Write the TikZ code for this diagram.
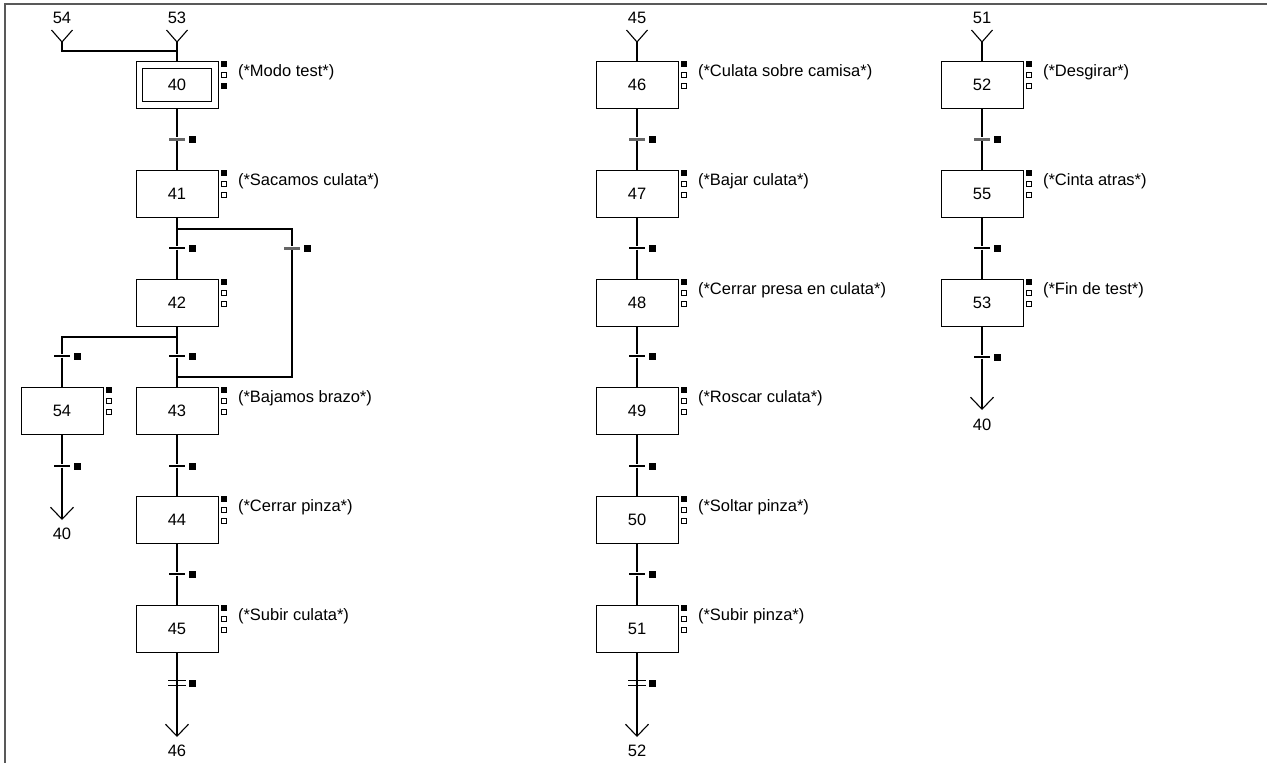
\documentclass[tikz,border=0pt]{standalone}
\usepackage{fontspec}
\setmainfont{Liberation Sans}
\usetikzlibrary{arrows.meta,calc,positioning}

\tikzset{
  stepbox/.style={draw, line width=1pt, minimum width=82pt, minimum height=47pt, inner sep=0pt},
  initbox/.style={draw, line width=1pt, minimum width=69pt, minimum height=33pt, inner sep=0pt},
  marksq/.style={draw, line width=0.8pt, fill=white, minimum size=5.2pt, inner sep=0pt},
  tsq/.style={fill=black, minimum size=7pt, inner sep=0pt},
  trans/.style={fill=black, minimum width=16pt, minimum height=2pt, inner sep=0pt,
    label={[tsq, label distance=2.5pt]right:{}}},
  gtrans/.style={trans, fill=black!60, minimum height=3pt},
  dtrans/.style={minimum width=16pt, minimum height=4.5pt, inner sep=0pt,
    label={[tsq, label distance=2.5pt]right:{}}},
  action/.style={anchor=west, inner sep=0pt},
  exit/.style={-{Straight Barb[length=12pt, width=23pt]}},
  frame/.style={line width=2pt, black!65}
}

% three activity squares beside a step
\newcommand{\stepmarks}[2][white]{%
  \node[marksq, fill=black, anchor=north west] (#2-a) at ($(#2.north east)+(2.5,0)$) {};
  \node[marksq, below=5pt of #2-a] (#2-b) {};
  \node[marksq, fill=#1, below=5pt of #2-b] (#2-c) {};
}

\begin{document}
\begin{tikzpicture}[x=1pt, y=-1pt, line width=1.1pt, font=\fontsize{16.5pt}{19pt}\selectfont]
\useasboundingbox (0,0) rectangle (1267,763);
\draw[frame] (4.5,763) -- (4.5,4) -- (1267,4);

% first column
\node (in54) at (62,18) {54};
\node (in53) at (177,18) {53};
\coordinate (j54) at (62,42);
\coordinate (j53) at (177,42);
\coordinate (j40) at (177,51);

\node[stepbox] (s40) at (177,85) {40};
\node[initbox] (s40i) at (s40) {};
\node[stepbox] (s41) at (177,194) {41};
\node[stepbox] (s42) at (177,303) {42};
\node[stepbox] (s43) at (177,411) {43};
\node[stepbox] (s44) at (177,520) {44};
\node[stepbox] (s45) at (177,629) {45};
\node[stepbox] (s54) at (62,411) {54};

\node[gtrans] (t40) at (177,139) {};
\node[trans] (t41) at (177,248) {};
\node[gtrans] (t41r) at (292,248) {};
\node[trans] (t42) at (177,356) {};
\node[trans] (t42l) at (62,356) {};
\node[trans] (t43) at (177,466) {};
\node[trans] (t54) at (62,466) {};
\node[trans] (t44) at (177,574) {};
\node[dtrans] (t45) at (177,683) {};

\coordinate (b41) at (177,229);
\coordinate (b41r) at (292,229);
\coordinate (b43r) at (292,377);
\coordinate (b43) at (177,377);
\coordinate (b42) at (177,337);
\coordinate (b42l) at (62,337);
\coordinate (x46) at (177,737);
\coordinate (x40a) at (62,520);
\node (out46) at (177,751) {46};
\node (out40a) at (62,534) {40};

\draw ($(j54)+(-10.5,-12)$) -- (j54) -- ($(j54)+(10.5,-12)$);
\draw ($(j53)+(-10.5,-12)$) -- (j53) -- ($(j53)+(10.5,-12)$);
\draw (j54) |- (j40);
\draw (j53) -- (s40) -- (t40) -- (s41) -- (t41) -- (s42) -- (t42) -- (s43) -- (t43) -- (s44) -- (t44) -- (s45);
\draw[exit] (s45) -- (x46);
\draw (b41) -- (b41r) -- (t41r) -- (b43r) -- (b43);
\draw (b42) -- (b42l) -- (t42l) -- (s54) -- (t54);
\draw[exit] (t54) -- (x40a);

\node[action] (a40) at ($(s40.north east)+(19,11)$) {(*Modo test*)};
\node[action] (a41) at ($(s41.north east)+(19,11)$) {(*Sacamos culata*)};
\node[action] (a43) at ($(s43.north east)+(19,11)$) {(*Bajamos brazo*)};
\node[action] (a44) at ($(s44.north east)+(19,11)$) {(*Cerrar pinza*)};
\node[action] (a45) at ($(s45.north east)+(19,11)$) {(*Subir culata*)};

% second column
\node (in45) at (637,18) {45};
\coordinate (j45) at (637,42);
\node[stepbox] (s46) at (637,85) {46};
\node[stepbox] (s47) at (637,194) {47};
\node[stepbox] (s48) at (637,303) {48};
\node[stepbox] (s49) at (637,411) {49};
\node[stepbox] (s50) at (637,520) {50};
\node[stepbox] (s51) at (637,629) {51};

\node[gtrans] (t46) at (637,139) {};
\node[trans] (t47) at (637,248) {};
\node[trans] (t48) at (637,356) {};
\node[trans] (t49) at (637,466) {};
\node[trans] (t50) at (637,574) {};
\node[dtrans] (t51) at (637,683) {};
\coordinate (x52) at (637,737);
\node (out52) at (637,751) {52};

\draw ($(j45)+(-10.5,-12)$) -- (j45) -- ($(j45)+(10.5,-12)$);
\draw (j45) -- (s46) -- (t46) -- (s47) -- (t47) -- (s48) -- (t48) -- (s49) -- (t49) -- (s50) -- (t50) -- (s51);
\draw[exit] (s51) -- (x52);

\node[action] (a46) at ($(s46.north east)+(19,11)$) {(*Culata sobre camisa*)};
\node[action] (a47) at ($(s47.north east)+(19,11)$) {(*Bajar culata*)};
\node[action] (a48) at ($(s48.north east)+(19,11)$) {(*Cerrar presa en culata*)};
\node[action] (a49) at ($(s49.north east)+(19,11)$) {(*Roscar culata*)};
\node[action] (a50) at ($(s50.north east)+(19,11)$) {(*Soltar pinza*)};
\node[action] (a51) at ($(s51.north east)+(19,11)$) {(*Subir pinza*)};

% third column
\node (in51) at (982,18) {51};
\coordinate (j51) at (982,42);
\node[stepbox] (s52) at (982,85) {52};
\node[stepbox] (s55) at (982,194) {55};
\node[stepbox] (s53) at (982,303) {53};

\node[gtrans] (t52) at (982,139) {};
\node[trans] (t55) at (982,248) {};
\node[trans] (t53) at (982,357) {};
\coordinate (x40b) at (982,410);
\node (out40b) at (982,425) {40};

\draw ($(j51)+(-10.5,-12)$) -- (j51) -- ($(j51)+(10.5,-12)$);
\draw (j51) -- (s52) -- (t52) -- (s55) -- (t55) -- (s53) -- (t53);
\draw[exit] (t53) -- (x40b);

\node[action] (a52) at ($(s52.north east)+(19,11)$) {(*Desgirar*)};
\node[action] (a55) at ($(s55.north east)+(19,11)$) {(*Cinta atras*)};
\node[action] (a53) at ($(s53.north east)+(19,11)$) {(*Fin de test*)};

% double transitions and activity squares
\foreach \t in {t45,t51}
  \draw[line width=1pt] (\t.north west) -- (\t.north east) (\t.south west) -- (\t.south east);
\stepmarks[black]{s40}
\foreach \s in {s41,s42,s43,s44,s45,s54,s46,s47,s48,s49,s50,s51,s52,s55,s53}
  {\stepmarks{\s}}
\end{tikzpicture}
\end{document}
